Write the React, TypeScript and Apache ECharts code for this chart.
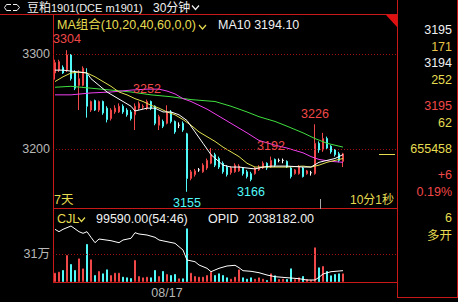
import React, { useEffect, useRef } from 'react';
import * as echarts from 'echarts';

// ---------------- data ----------------
const SLOT_COUNT = 86; // category slots on the time axis (data fills the first 73)
const dateTicks = [{ index: 28, label: '08/17' }];

// [open, close, low, high]
const candleOHLC: number[][] = [
  [3280, 3291, 3273, 3294], [3283, 3292, 3281, 3294], [3286, 3280, 3279, 3288], [3283, 3299, 3281, 3304],
  [3299, 3274, 3272, 3300], [3281, 3264, 3262, 3283], [3267, 3274, 3241, 3283], [3267, 3285, 3266, 3287],
  [3278, 3245, 3233, 3285], [3241, 3250, 3239, 3251], [3251, 3241, 3240, 3252], [3241, 3250, 3239, 3251],
  [3250, 3238, 3236, 3251], [3243, 3231, 3228, 3245], [3232, 3241, 3230, 3243], [3239, 3243, 3237, 3246],
  [3239, 3245, 3238, 3248], [3245, 3239, 3237, 3247], [3241, 3236, 3234, 3243], [3239, 3232, 3230, 3241],
  [3236, 3245, 3220, 3248], [3243, 3248, 3241, 3250], [3244, 3245, 3242, 3247], [3243, 3250, 3241, 3252],
  [3250, 3243, 3241, 3251], [3245, 3227, 3225, 3246], [3225, 3234, 3220, 3236], [3229, 3224, 3222, 3231],
  [3227, 3239, 3226, 3246], [3239, 3229, 3227, 3241], [3229, 3218, 3216, 3230], [3225, 3225, 3222, 3228],
  [3227, 3220, 3218, 3229], [3216, 3169, 3155, 3217], [3169, 3176, 3167, 3178], [3173, 3177, 3171, 3179],
  [3178, 3178, 3176, 3180], [3176, 3183, 3175, 3185], [3180, 3188, 3178, 3190], [3185, 3194, 3184, 3201],
  [3194, 3183, 3181, 3196], [3190, 3181, 3179, 3192], [3185, 3176, 3174, 3187], [3181, 3173, 3171, 3183],
  [3175, 3180, 3173, 3182], [3176, 3183, 3175, 3185], [3177, 3182, 3176, 3184], [3180, 3174, 3172, 3181],
  [3176, 3171, 3169, 3178], [3174, 3168, 3166, 3176], [3174, 3180, 3173, 3181], [3178, 3181, 3177, 3183],
  [3180, 3185, 3179, 3187], [3185, 3180, 3178, 3186], [3181, 3188, 3180, 3192], [3189, 3183, 3181, 3190],
  [3188, 3188, 3186, 3190], [3188, 3188, 3185, 3190], [3187, 3181, 3180, 3188], [3180, 3171, 3169, 3181],
  [3174, 3178, 3173, 3179], [3174, 3181, 3173, 3183], [3180, 3171, 3170, 3181], [3174, 3177, 3173, 3178],
  [3175, 3175, 3172, 3177], [3174, 3206, 3173, 3226], [3206, 3199, 3196, 3208], [3199, 3211, 3197, 3217],
  [3211, 3201, 3199, 3213], [3203, 3197, 3195, 3204], [3199, 3194, 3192, 3200], [3195, 3188, 3186, 3197],
  [3187, 3195, 3181, 3196],
];

const volumeLots: number[] = [
  103000, 114000, 133000, 299000, 199000, 133000, 262000, 151000, 421000, 251000,
  77000, 122000, 96000, 140000, 77000, 103000, 103000, 59000, 52000, 44000,
  244000, 66000, 52000, 59000, 52000, 133000, 66000, 122000, 89000, 77000,
  89000, 41000, 41000, 594000, 103000, 66000, 59000, 59000, 77000, 114000,
  77000, 96000, 77000, 52000, 37000, 59000, 140000, 52000, 37000, 52000,
  37000, 52000, 37000, 22000, 96000, 74000, 33000, 37000, 33000, 151000,
  33000, 52000, 66000, 33000, 22000, 384000, 162000, 177000, 122000, 74000,
  89000, 96000, 96000,
];

// [candle index, value]
const ma10Points: number[][] = [
  [0, 3283], [2, 3283], [4, 3282], [6, 3281], [8, 3280], [9, 3274], [11, 3267], [13, 3260], [15, 3255],
  [17, 3250], [19, 3245], [20, 3240], [21, 3241], [23, 3243], [25, 3243], [27, 3239], [29, 3239], [31, 3236],
  [33, 3230], [35, 3218], [37, 3206], [39, 3194], [42, 3183], [44, 3181], [46, 3181], [48, 3180], [50, 3179],
  [52, 3181], [54, 3182], [58, 3182], [62, 3181], [64, 3181], [66, 3186], [68, 3188], [70, 3190], [72, 3194.1],
];
const ma20Points: number[][] = [
  [0, 3271], [2, 3276], [4, 3280], [6, 3281], [8, 3280], [10, 3276], [12, 3271], [14, 3266], [16, 3260],
  [18, 3257], [20, 3253], [22, 3250], [24, 3246], [26, 3243], [28, 3239], [30, 3236], [32, 3231], [34, 3225],
  [36, 3218], [38, 3213], [40, 3208], [42, 3202], [44, 3197], [46, 3192], [48, 3185], [50, 3181], [54, 3181],
  [58, 3181], [62, 3182], [64, 3181], [66, 3183], [68, 3186], [70, 3188], [72, 3190],
];
const ma40Points: number[][] = [
  [0, 3257], [4, 3257], [9, 3259], [14, 3260], [19, 3262], [23, 3263], [26, 3263], [28, 3261], [30, 3258],
  [32, 3253], [34, 3250], [36, 3246], [38, 3242], [40, 3237], [44, 3227], [48, 3217], [51, 3209], [55, 3204],
  [58, 3201], [62, 3196], [64, 3192], [66, 3189], [69, 3187], [72, 3186],
];
const ma60Points: number[][] = [
  [0, 3265], [4, 3266], [9, 3264], [14, 3262], [19, 3260], [24, 3257], [29, 3255], [34, 3252], [37, 3251],
  [40, 3250], [44, 3245], [48, 3239], [51, 3234], [55, 3229], [58, 3224], [62, 3217], [65, 3211], [68, 3206],
  [72, 3202],
];
const openInterestPoints: number[][] = [
  [0, 676150], [1, 674950], [2, 676150], [4, 677800], [6, 674950], [7, 674150], [8, 674950], [9, 672150],
  [10, 669450], [11, 671300], [14, 670450], [16, 669450], [17, 670800], [19, 671650], [20, 674450],
  [21, 673800], [23, 673300], [25, 672150], [26, 670800], [28, 669950], [30, 669150], [31, 667450],
  [32, 665800], [33, 660800], [35, 659950], [36, 658300], [38, 656650], [39, 654950], [41, 656650],
  [43, 657800], [45, 658150], [46, 656950], [47, 655450], [49, 655150], [51, 654450], [53, 653300],
  [55, 652450], [58, 651950], [61, 651450], [63, 650800], [65, 650800], [66, 652150], [67, 653800],
  [69, 654950], [72, 655458],
];

const extremeMarks = [
  { index: 3, value: 3304, kind: 'high' },
  { index: 23, value: 3252, kind: 'high' },
  { index: 33, value: 3155, kind: 'low' },
  { index: 49, value: 3166, kind: 'low' },
  { index: 54, value: 3192, kind: 'high' },
  { index: 65, value: 3226, kind: 'high' },
];
const priceGridValues = [3200, 3300];
const volumeGridValues = [310000];
const lastPrice = 3195;

const quoteTexts = ['3195', '171', '3194', '252', '3195', '62', '655458', '+6', '0.19%', '6', '多开'];

// ---------------- styles / layout ----------------
const RED = '#f04848';
const CYAN = '#50f8f8';
const YELLOW = '#e6dc50';
const GOLD = '#e8c448';
const WHITE = '#f0f0f0';
const GRAY = '#b8b8b8';
const LINE_RED = '#c81818';
const GRID_RED = '#a01010';
const FONT = '"Liberation Sans","Noto Sans CJK SC",sans-serif';

const quoteStyle = [
  { y: 30, c: WHITE }, { y: 47, c: GOLD }, { y: 63, c: WHITE }, { y: 80, c: YELLOW },
  { y: 106, c: RED }, { y: 123, c: YELLOW }, { y: 149, c: YELLOW }, { y: 175, c: RED },
  { y: 192, c: RED }, { y: 218, c: YELLOW }, { y: 236, c: YELLOW },
];

function txt(text: string, x: number, y: number, fill: string, size = 12, align = 'left') {
  return {
    type: 'text', x, y, silent: true,
    style: { text, fill, font: `${size}px ${FONT}`, textAlign: align, textVerticalAlign: 'middle', align, verticalAlign: 'middle' },
  };
}
function hline(x1: number, x2: number, y: number, stroke = LINE_RED) {
  return { type: 'line', silent: true, shape: { x1, y1: y, x2, y2: y }, style: { stroke, lineWidth: 1 } };
}
function vline(x: number, y1: number, y2: number, stroke = LINE_RED) {
  return { type: 'line', silent: true, shape: { x1: x, y1, x2: x, y2 }, style: { stroke, lineWidth: 1 } };
}
function chevron(x: number, y: number, stroke: string) {
  return {
    type: 'polyline', silent: true,
    shape: { points: [[x, y], [x + 3.5, y + 4], [x + 7, y]] },
    style: { stroke, lineWidth: 1.2, fill: null },
  };
}

export default function App() {
  const ref = useRef<HTMLDivElement>(null);

  useEffect(() => {
    if (!ref.current) return;
    const chart = echarts.init(ref.current, undefined, { renderer: 'svg' });

    const categories = Array.from({ length: SLOT_COUNT }, (_, i) => {
      const t = dateTicks.find((d) => d.index === i);
      return t ? t.label : '';
    });

    const volumeData = volumeLots.map((v, i) => {
      const [o, c] = candleOHLC[i];
      const up = c >= o;
      return {
        value: v,
        itemStyle: up
          ? { color: '#000', borderColor: RED, borderWidth: 1 }
          : { color: CYAN, borderColor: CYAN, borderWidth: 1 },
      };
    });

    const maLine = (data: number[][], color: string) => ({
      type: 'line', xAxisIndex: 0, yAxisIndex: 0, data, symbol: 'none', silent: true,
      lineStyle: { color, width: 1 }, z: 3,
    });

    const graphic: any[] = [
      // frame
      hline(0, 397, 14.5),
      vline(397.5, 0, 297),
      hline(397, 458, 297.5),
      vline(457.5, 0, 297),
      vline(53.5, 14, 283),
      hline(53, 397, 208.5),
      hline(53, 397, 282.5),
      { type: 'polygon', silent: true, shape: { points: [[386, 15], [397, 15], [397, 27]] }, style: { fill: '#e01010' } },
      vline(320.5, 199, 209, '#a8a8a8'),
      // header
      { type: 'polyline', silent: true, shape: { points: [[11, 4.5], [6.5, 4.5], [4.5, 7.5], [6.5, 10.5], [11, 10.5]] }, style: { stroke: WHITE, lineWidth: 1, fill: null } },
      { type: 'polyline', silent: true, shape: { points: [[13, 4.5], [17, 4.5], [19.5, 7.5], [17, 10.5], [13, 10.5]] }, style: { stroke: WHITE, lineWidth: 1, fill: null } },
      txt('豆粕', 27, 7.5, WHITE, 12),
      txt('1901(DCE m1901)', 51, 7.5, WHITE, 11),
      txt('30分钟', 153, 7.5, WHITE, 12),
      chevron(192, 5.5, WHITE),
      txt('MA组合(10,20,40,60,0,0)', 57, 25, YELLOW, 12.5),
      chevron(199, 25, YELLOW),
      txt('MA10 3194.10', 218, 25, WHITE, 12.5),
      txt('7天', 54, 200, YELLOW, 12.5),
      txt('10分1秒', 350, 200, YELLOW, 12),
      // volume header
      txt('CJL', 57, 219, YELLOW, 12.5),
      chevron(78, 217.5, YELLOW),
      txt('99590.00(54:46)', 96, 219, WHITE, 12.5),
      txt('OPID', 208, 219, WHITE, 12.5),
      txt('2038182.00', 248, 219, WHITE, 12.5),
      // right quote panel
      ...quoteTexts.map((t, i) => txt(t, 452, quoteStyle[i].y, quoteStyle[i].c, 12.5, 'right')),
    ];

    const option: any = {
      animation: false,
      backgroundColor: '#000',
      textStyle: { fontFamily: FONT },
      grid: [
        { left: 53, top: 14, width: 344, height: 194 },
        { left: 53, top: 209, width: 344, height: 73 },
      ],
      xAxis: [
        { type: 'category', gridIndex: 0, data: categories, boundaryGap: true, show: false },
        {
          type: 'category', gridIndex: 1, data: categories, boundaryGap: true,
          axisLine: { show: false }, axisTick: { show: false }, splitLine: { show: false },
          axisLabel: { interval: 0, color: GRAY, fontSize: 12.5, margin: 5, fontFamily: FONT, hideOverlap: false },
        },
      ],
      yAxis: [
        { type: 'value', gridIndex: 0, min: 3137.9, max: 3342.1, show: false },
        { type: 'value', gridIndex: 1, min: 0, max: 808000, show: false },
        { type: 'value', gridIndex: 1, min: 649800, max: 686300, show: false },
      ],
      graphic,
      series: [
        {
          type: 'candlestick', xAxisIndex: 0, yAxisIndex: 0, data: candleOHLC, barWidth: 2, silent: true,
          itemStyle: {
            color: '#000', color0: CYAN, borderColor: RED, borderColor0: CYAN,
            borderColorDoji: '#ffffff', borderWidth: 1,
          },
          markLine: {
            silent: true, symbol: ['none', 'none'], animation: false,
            data: [
              ...priceGridValues.map((v) => ({
                yAxis: v,
                lineStyle: { color: GRID_RED, type: [1, 2], width: 1 },
                label: { show: true, position: 'start', distance: 3, formatter: `${v}`, color: GRAY, fontSize: 12.5, fontFamily: FONT },
              })),
              [
                { coord: [81, lastPrice], lineStyle: { color: YELLOW, type: 'solid', width: 1 }, label: { show: false } },
                { coord: [85, lastPrice] },
              ],
            ],
          },
          markPoint: {
            silent: true, symbol: 'circle', symbolSize: 1, animation: false,
            itemStyle: { color: 'rgba(0,0,0,0)' },
            data: extremeMarks.map((m) => ({
              coord: [m.index, m.value], value: m.value,
              label: {
                show: true, formatter: `${m.value}`, position: m.kind === 'high' ? 'top' : 'bottom', distance: 4,
                color: m.kind === 'high' ? RED : CYAN, fontSize: 12.5, fontFamily: FONT,
              },
            })),
          },
        },
        maLine(ma60Points, '#40e040'),
        maLine(ma40Points, '#f040f0'),
        maLine(ma20Points, '#e0e050'),
        maLine(ma10Points, '#ffffff'),
        {
          type: 'bar', xAxisIndex: 1, yAxisIndex: 1, data: volumeData, barWidth: 2, silent: true,
          markLine: {
            silent: true, symbol: ['none', 'none'], animation: false,
            data: volumeGridValues.map((v) => ({
              yAxis: v,
              lineStyle: { color: GRID_RED, type: [1, 2], width: 1 },
              label: { show: true, position: 'start', distance: 3, formatter: `${Math.round(v / 10000)}万`, color: GRAY, fontSize: 12.5, fontFamily: FONT },
            })),
          },
        },
        {
          type: 'line', xAxisIndex: 1, yAxisIndex: 2, data: openInterestPoints, symbol: 'none', silent: true,
          lineStyle: { color: '#ffffff', width: 1 }, z: 3,
        },
      ],
    };

    chart.setOption(option);
    return () => chart.dispose();
  }, []);

  return (
    <div
      ref={ref}
      style={{ position: 'fixed', left: 0, top: 0, width: 458, height: 302, background: '#000' }}
    />
  );
}
